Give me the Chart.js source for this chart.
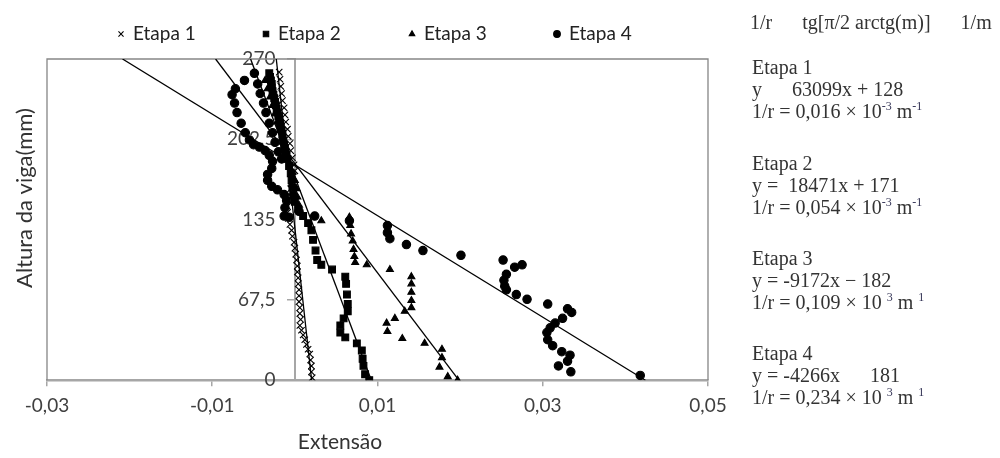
<!DOCTYPE html>
<html>
<head>
<meta charset="utf-8">
<script src="https://cdn.jsdelivr.net/npm/chart.js@4.4.0/dist/chart.umd.min.js"></script>
<style>
body { margin: 0; background: #fff; }
#wrap { position: relative; width: 1000px; height: 458px; }
.note { position: absolute; left: 752px; font-family: "Liberation Serif", serif; font-size: 20px; line-height: 22px; color: #333; white-space: pre; }
.note sup { font-size: 12px; line-height: 0; vertical-align: 8px; color: #335; }
</style>
</head>
<body>
<div id="wrap">
<canvas id="deformChart" width="1000" height="458"></canvas>
<div class="note" style="left:750px; top:11px">1/r      tg[π/2 arctg(m)]      1/m</div>
<div class="note" style="top:56px">Etapa 1
y      63099x + 128
1/r = 0,016 × 10<sup>-3</sup> m<sup>-1</sup></div>
<div class="note" style="top:152px">Etapa 2
y =  18471x + 171
1/r = 0,054 × 10<sup>-3</sup> m<sup>-1</sup></div>
<div class="note" style="top:247px">Etapa 3
y = -9172x − 182
1/r = 0,109 × 10 <sup>3</sup> m <sup>1</sup></div>
<div class="note" style="top:342px">Etapa 4
y = -4266x      181
1/r = 0,234 × 10 <sup>3</sup> m <sup>1</sup></div>
</div>
<script>
// strain (x) vs beam height in mm (y)
const etapa1 = [
    [-0.0019, 259], [-0.0018, 253], [-0.0017, 247], [-0.0016, 241], [-0.0015, 235], [-0.0013, 229],
    [-0.0012, 223], [-0.0011, 217], [-0.0009, 211], [-0.0008, 205], [-0.0006, 199], [-0.0005, 193],
    [-0.0003, 187], [-0.0001, 181], [0.0000, 176], [-0.0002, 171], [-0.0004, 166], [-0.0005, 161],
    [-0.0007, 156], [-0.0008, 151], [-0.0009, 146], [-0.0009, 141], [-0.0008, 136], [-0.0006, 131],
    [-0.0004, 126], [-0.0003, 121], [-0.0001, 116], [0.0000, 111], [0.0001, 106], [0.0002, 101],
    [0.0003, 96], [0.0003, 91], [0.0004, 86], [0.0004, 81], [0.0005, 76], [0.0005, 71],
    [0.0005, 66], [0.0006, 61], [0.0006, 56], [0.0007, 51], [0.0006, 46], [0.0008, 42],
    [0.0010, 38], [0.0012, 34], [0.0014, 30], [0.0016, 26], [0.0018, 22], [0.0019, 17],
    [0.0020, 12], [0.0020, 7], [0.0021, 2]
];
const etapa2 = [
    [-0.0031, 258], [-0.0030, 255], [-0.0029, 252], [-0.0028, 249], [-0.0028, 246], [-0.0027, 243],
    [-0.0026, 240], [-0.0025, 237], [-0.0024, 234], [-0.0023, 231], [-0.0022, 228], [-0.0021, 225],
    [-0.0020, 222], [-0.0019, 219], [-0.0018, 216], [-0.0017, 213], [-0.0016, 210], [-0.0015, 207],
    [-0.0015, 204], [-0.0014, 201], [-0.0013, 198], [-0.0012, 195], [-0.0011, 192], [-0.0010, 189],
    [-0.0009, 186], [-0.0007, 180], [-0.0005, 174], [-0.0004, 168], [-0.0003, 162], [-0.0002, 156],
    [0.0000, 150], [0.0004, 144], [0.0010, 138], [0.0016, 132], [0.0020, 126], [0.0022, 118],
    [0.0025, 109], [0.0027, 101], [0.0032, 97], [0.0045, 93], [0.0061, 87], [0.0062, 81],
    [0.0063, 72], [0.0064, 64], [0.0064, 58], [0.0059, 52], [0.0055, 46], [0.0055, 40],
    [0.0061, 36], [0.0075, 31], [0.0081, 25], [0.0082, 18], [0.0083, 12], [0.0085, 5], [0.0090, 0]
];
const etapa3 = [
    [-0.0036, 252], [-0.0033, 245], [-0.0030, 238], [-0.0027, 231], [-0.0024, 224], [-0.0021, 217],
    [-0.0018, 210], [-0.0015, 203], [-0.0012, 196], [-0.0009, 189], [-0.0006, 182], [-0.0003, 175],
    [0.0000, 168], [0.0002, 161], [0.0003, 154], [0.0005, 147], [0.0007, 141], [0.0032, 134],
    [0.0066, 137], [0.0067, 130], [0.0068, 123], [0.0070, 117], [0.0071, 110], [0.0072, 104],
    [0.0073, 99], [0.0087, 97], [0.0115, 93], [0.0141, 87], [0.0141, 81], [0.0141, 74],
    [0.0141, 67], [0.0141, 61], [0.0133, 58], [0.0121, 52], [0.0111, 48], [0.0112, 41],
    [0.0130, 35], [0.0157, 31], [0.0178, 26], [0.0178, 19], [0.0175, 11], [0.0185, 3], [0.0197, 0]
];
const etapa4 = [
    [-0.0049, 258], [-0.0061, 252], [-0.0072, 245], [-0.0076, 240], [-0.0073, 233], [-0.0070, 225],
    [-0.0065, 216], [-0.0060, 208], [-0.0055, 202], [-0.0050, 198], [-0.0043, 196], [-0.0036, 193],
    [-0.0031, 189], [-0.0027, 184], [-0.0028, 178], [-0.0033, 173], [-0.0033, 168], [-0.0028, 163],
    [-0.0021, 160], [-0.0013, 156], [-0.0010, 151], [-0.0012, 145], [-0.0013, 138], [-0.0007, 137],
    [-0.0045, 249], [-0.0042, 241], [-0.0038, 233], [-0.0035, 225], [-0.0031, 216], [-0.0027, 208],
    [-0.0024, 200], [-0.0020, 192], [-0.0016, 186],
    [0.0005, 142], [0.0024, 138], [0.0066, 134], [0.0112, 130], [0.0112, 124], [0.0115, 119],
    [0.0135, 114], [0.0155, 109], [0.0201, 105], [0.0252, 101], [0.0266, 95], [0.0275, 97],
    [0.0256, 89], [0.0253, 84], [0.0254, 79], [0.0256, 76], [0.0268, 72], [0.0281, 68],
    [0.0306, 64], [0.0330, 60], [0.0335, 57], [0.0324, 52], [0.0315, 48], [0.0309, 44],
    [0.0305, 40], [0.0306, 34], [0.0312, 29], [0.0323, 24], [0.0333, 21], [0.0330, 16],
    [0.0319, 12], [0.0334, 7], [0.0418, 4]
];

const seriesNames = ['Etapa 1', 'Etapa 2', 'Etapa 3', 'Etapa 4'];
const seriesData = [etapa1, etapa2, etapa3, etapa4];
const pointStyles = ['crossRot', 'rect', 'triangle', 'circle'];
const pointSizes = [4.5, 4.8, 4, 4.2];

// linear trend lines y = m*x + b
const trendSlope = [-63099, -18471, -9172, -4266];
const trendIntercept = [128, 171, 182, 181];

const xTicks = [-0.03, -0.01, 0.01, 0.03, 0.05];
const yTicks = [0, 67.5, 135, 202.5, 270];

const legendX = [121, 266, 412, 557];

const tickFont = { family: 'Lato', size: 19 };
const axisGray = '#a6a6a6';

function fmt(v) {
    return String(v).replace('.', ',');
}

const datasets = [];
seriesData.forEach((pts, i) => {
    datasets.push({
        label: seriesNames[i],
        data: pts.map(p => ({ x: p[0], y: p[1] })),
        pointStyle: pointStyles[i],
        pointRadius: pointSizes[i],
        pointBorderWidth: 1.1,
        backgroundColor: '#000',
        borderColor: '#000',
        showLine: false
    });
});
trendSlope.forEach((m, i) => {
    const b = trendIntercept[i];
    const yTop = yTicks[yTicks.length - 1];
    const yBot = yTicks[0];
    datasets.push({
        label: 'Linear (' + seriesNames[i] + ')',
        data: [{ x: (yTop - b) / m, y: yTop }, { x: (yBot - b) / m, y: yBot }],
        showLine: true,
        pointRadius: 0,
        borderColor: '#000',
        borderWidth: 1.3
    });
});

const decor = {
    id: 'decor',
    beforeDraw(chart) {
        const ctx = chart.ctx;
        ctx.save();
        ctx.fillStyle = '#fff';
        ctx.fillRect(0, 0, chart.width, chart.height);
        ctx.restore();
    },
    beforeDatasetsDraw(chart) {
        const { ctx, chartArea: a } = chart;
        ctx.save();
        ctx.strokeStyle = '#868686';
        ctx.lineWidth = 1.3;
        ctx.beginPath();
        ctx.moveTo(a.left, a.bottom);
        ctx.lineTo(a.left, a.top);
        ctx.lineTo(a.right, a.top);
        ctx.lineTo(a.right, a.bottom);
        ctx.stroke();
        ctx.restore();
    },
    afterDraw(chart) {
        const ctx = chart.ctx;
        ctx.save();
        // legend
        for (let i = 0; i < seriesNames.length; i++) {
            const ds = chart.data.datasets[i];
            ctx.fillStyle = '#000';
            ctx.strokeStyle = '#000';
            ctx.lineWidth = 1.1;
            Chart.helpers.drawPoint(ctx, { pointStyle: ds.pointStyle, radius: ds.pointRadius * 0.8, borderWidth: 1.1, rotation: 0 }, legendX[i], 34);
            ctx.fillStyle = '#222';
            ctx.font = '19px Lato';
            ctx.textAlign = 'left';
            ctx.textBaseline = 'middle';
            ctx.fillText(seriesNames[i], legendX[i] + 12, 34);
        }
        // axis titles
        ctx.fillStyle = '#333';
        ctx.font = '21px Lato';
        ctx.textAlign = 'center';
        ctx.textBaseline = 'middle';
        ctx.fillText('Extensão', 340, 442);
        ctx.translate(25, 198);
        ctx.rotate(-Math.PI / 2);
        ctx.font = '22px Lato';
        ctx.fillText('Altura da viga(mm)', 0, 0);
        ctx.restore();
    }
};

new Chart(document.getElementById('deformChart'), {
    type: 'scatter',
    data: { datasets: datasets },
    options: {
        responsive: false,
        animation: false,
        layout: { padding: { left: 47, right: 292, top: 59, bottom: 33 } },
        plugins: {
            legend: { display: false },
            tooltip: { enabled: false }
        },
        scales: {
            x: {
                type: 'linear',
                position: 'bottom',
                min: -0.03,
                max: 0.05,
                afterBuildTicks: (scale) => { scale.ticks = xTicks.map(v => ({ value: v })); },
                ticks: { padding: 8, font: tickFont, color: '#404040', callback: (v) => fmt(v) },
                grid: { drawOnChartArea: false, drawTicks: true, tickLength: 6, color: axisGray, lineWidth: 1.5 },
                border: { color: axisGray, width: 2.5 }
            },
            y: {
                type: 'linear',
                position: { x: 0 },
                min: 0,
                max: 270,
                afterBuildTicks: (scale) => { scale.ticks = yTicks.map(v => ({ value: v })); },
                // axis crosses at x = 0; trailing spaces keep labels clear of the tick marks
                ticks: { padding: 14, font: tickFont, color: '#404040', callback: (v) => fmt(v) + '    ' },
                grid: { drawOnChartArea: false, drawTicks: true, tickLength: 7, color: axisGray, lineWidth: 1.5 },
                border: { color: axisGray, width: 2 }
            }
        }
    },
    plugins: [decor]
});
</script>
</body>
</html>
